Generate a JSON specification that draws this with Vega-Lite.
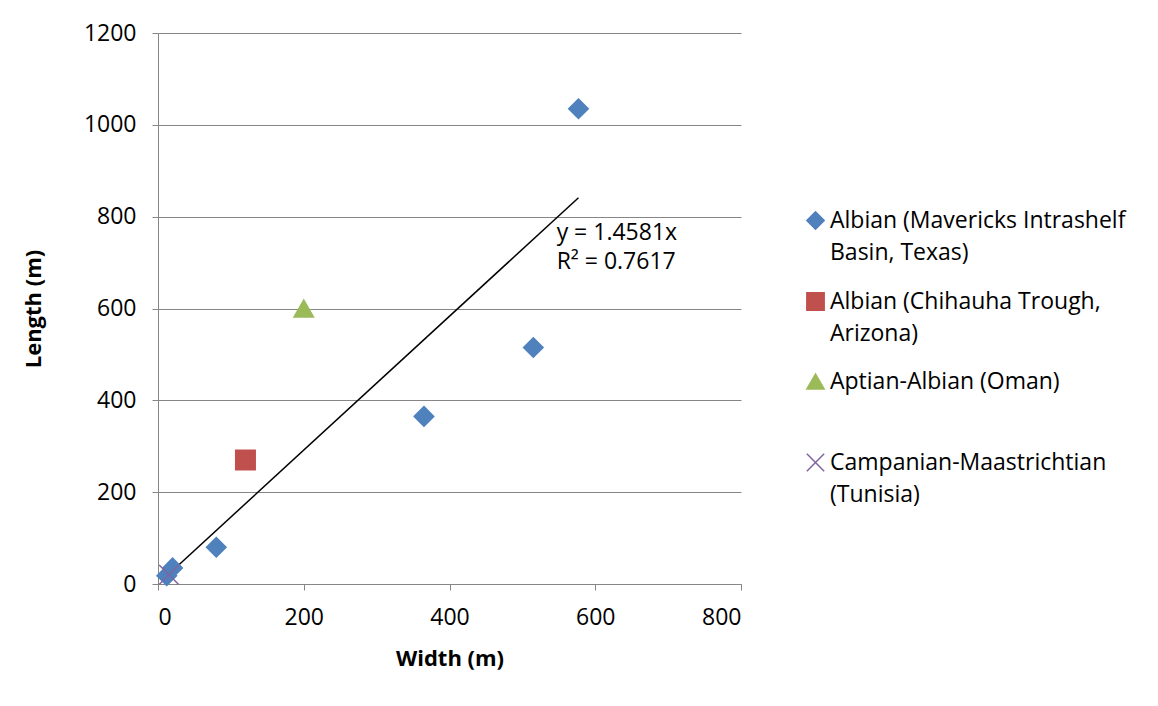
{
  "$schema": "https://vega.github.io/schema/vega-lite/v6.json",
  "width": 583,
  "height": 551,
  "autosize": {"type": "none"},
  "padding": {"left": 158, "top": 33, "right": 417, "bottom": 122},
  "background": "white",
  "config": {
    "font": "Open Sans",
    "view": {"stroke": null},
    "style": {"guide-label": {"lineHeight": 32}},
    "axis": {
      "labelFont": "Open Sans",
      "labelFontSize": 23,
      "labelColor": "#000000",
      "titleFont": "Open Sans",
      "titleFontSize": 22,
      "titleFontWeight": "bold",
      "titleColor": "#000000",
      "domainColor": "#868686",
      "tickColor": "#868686",
      "tickSize": 6,
      "gridColor": "#868686",
      "gridWidth": 1,
      "format": "d"
    },
    "legend": {
      "labelFont": "Open Sans",
      "labelFontSize": 23,
      "labelColor": "#000000"
    }
  },
  "datasets": {
    "observations": [
      {"series": "Albian (Mavericks Intrashelf Basin, Texas)", "width": 577, "length": 1035},
      {"series": "Albian (Mavericks Intrashelf Basin, Texas)", "width": 515, "length": 515},
      {"series": "Albian (Mavericks Intrashelf Basin, Texas)", "width": 365, "length": 365},
      {"series": "Albian (Mavericks Intrashelf Basin, Texas)", "width": 80, "length": 80},
      {"series": "Albian (Mavericks Intrashelf Basin, Texas)", "width": 20, "length": 35},
      {"series": "Albian (Mavericks Intrashelf Basin, Texas)", "width": 12, "length": 18},
      {"series": "Albian (Chihauha Trough, Arizona)", "width": 120, "length": 270},
      {"series": "Aptian-Albian (Oman)", "width": 200, "length": 600},
      {"series": "Campanian-Maastrichtian (Tunisia)", "width": 15, "length": 20}
    ],
    "trend": [
      {"width": 12, "length": 17.5},
      {"width": 577, "length": 841.3}
    ],
    "equation": [
      {"label": ["y = 1.4581x", "R² = 0.7617"]}
    ]
  },
  "layer": [
    {
      "data": {"name": "trend"},
      "mark": {"type": "line", "color": "#000000", "strokeWidth": 1.5},
      "encoding": {
        "x": {
          "field": "width",
          "type": "quantitative",
          "scale": {"domain": [0, 800]},
          "axis": {
            "title": "Width (m)",
            "values": [0, 200, 400, 600, 800],
            "grid": false,
            "labelPadding": 16,
            "titlePadding": 19
          }
        },
        "y": {
          "field": "length",
          "type": "quantitative",
          "scale": {"domain": [0, 1200]},
          "axis": {
            "title": "Length (m)",
            "values": [0, 200, 400, 600, 800, 1000, 1200],
            "grid": true,
            "labelPadding": 16,
            "titlePadding": 38
          }
        }
      }
    },
    {
      "data": {"name": "observations"},
      "mark": {"type": "point", "filled": true, "opacity": 1, "strokeWidth": 1.5, "size": 380},
      "encoding": {
        "x": {"field": "width", "type": "quantitative"},
        "y": {"field": "length", "type": "quantitative"},
        "color": {
          "field": "series",
          "type": "nominal",
          "scale": {
            "domain": [
              "Albian (Mavericks Intrashelf Basin, Texas)",
              "Albian (Chihauha Trough, Arizona)",
              "Aptian-Albian (Oman)",
              "Campanian-Maastrichtian (Tunisia)"
            ],
            "range": ["#4F81BD", "#C0504D", "#9BBB59", "#8064A2"]
          },
          "legend": {
            "title": null,
            "orient": "none",
            "legendX": 646,
            "legendY": 176,
            "symbolSize": 300,
            "symbolStrokeWidth": 1.5,
            "labelLimit": 400,
            "labelOffset": 3,
            "rowPadding": 24,
            "labelExpr": "datum.label == 'Albian (Mavericks Intrashelf Basin, Texas)' ? ['Albian (Mavericks Intrashelf', 'Basin, Texas)'] : datum.label == 'Albian (Chihauha Trough, Arizona)' ? ['Albian (Chihauha Trough,', 'Arizona)'] : datum.label == 'Aptian-Albian (Oman)' ? ['Aptian-Albian (Oman)', ' '] : ['Campanian-Maastrichtian', '(Tunisia)']"
          }
        },
        "stroke": {
          "field": "series",
          "type": "nominal",
          "scale": {
            "domain": [
              "Albian (Mavericks Intrashelf Basin, Texas)",
              "Albian (Chihauha Trough, Arizona)",
              "Aptian-Albian (Oman)",
              "Campanian-Maastrichtian (Tunisia)"
            ],
            "range": ["#4F81BD", "#C0504D", "#9BBB59", "#8064A2"]
          },
          "legend": null
        },
        "shape": {
          "field": "series",
          "type": "nominal",
          "scale": {
            "domain": [
              "Albian (Mavericks Intrashelf Basin, Texas)",
              "Albian (Chihauha Trough, Arizona)",
              "Aptian-Albian (Oman)",
              "Campanian-Maastrichtian (Tunisia)"
            ],
            "range": ["diamond", "square", "triangle-up", "M-1,-1L1,1M-1,1L1,-1"]
          },
          "legend": null
        }
      }
    },
    {
      "data": {"name": "equation"},
      "mark": {"type": "text", "align": "left", "baseline": "middle", "fontSize": 23, "lineHeight": 29, "font": "Open Sans", "color": "#000000"},
      "encoding": {
        "x": {"datum": 547, "type": "quantitative"},
        "y": {"datum": 765, "type": "quantitative"},
        "text": {"field": "label"}
      }
    }
  ]
}
